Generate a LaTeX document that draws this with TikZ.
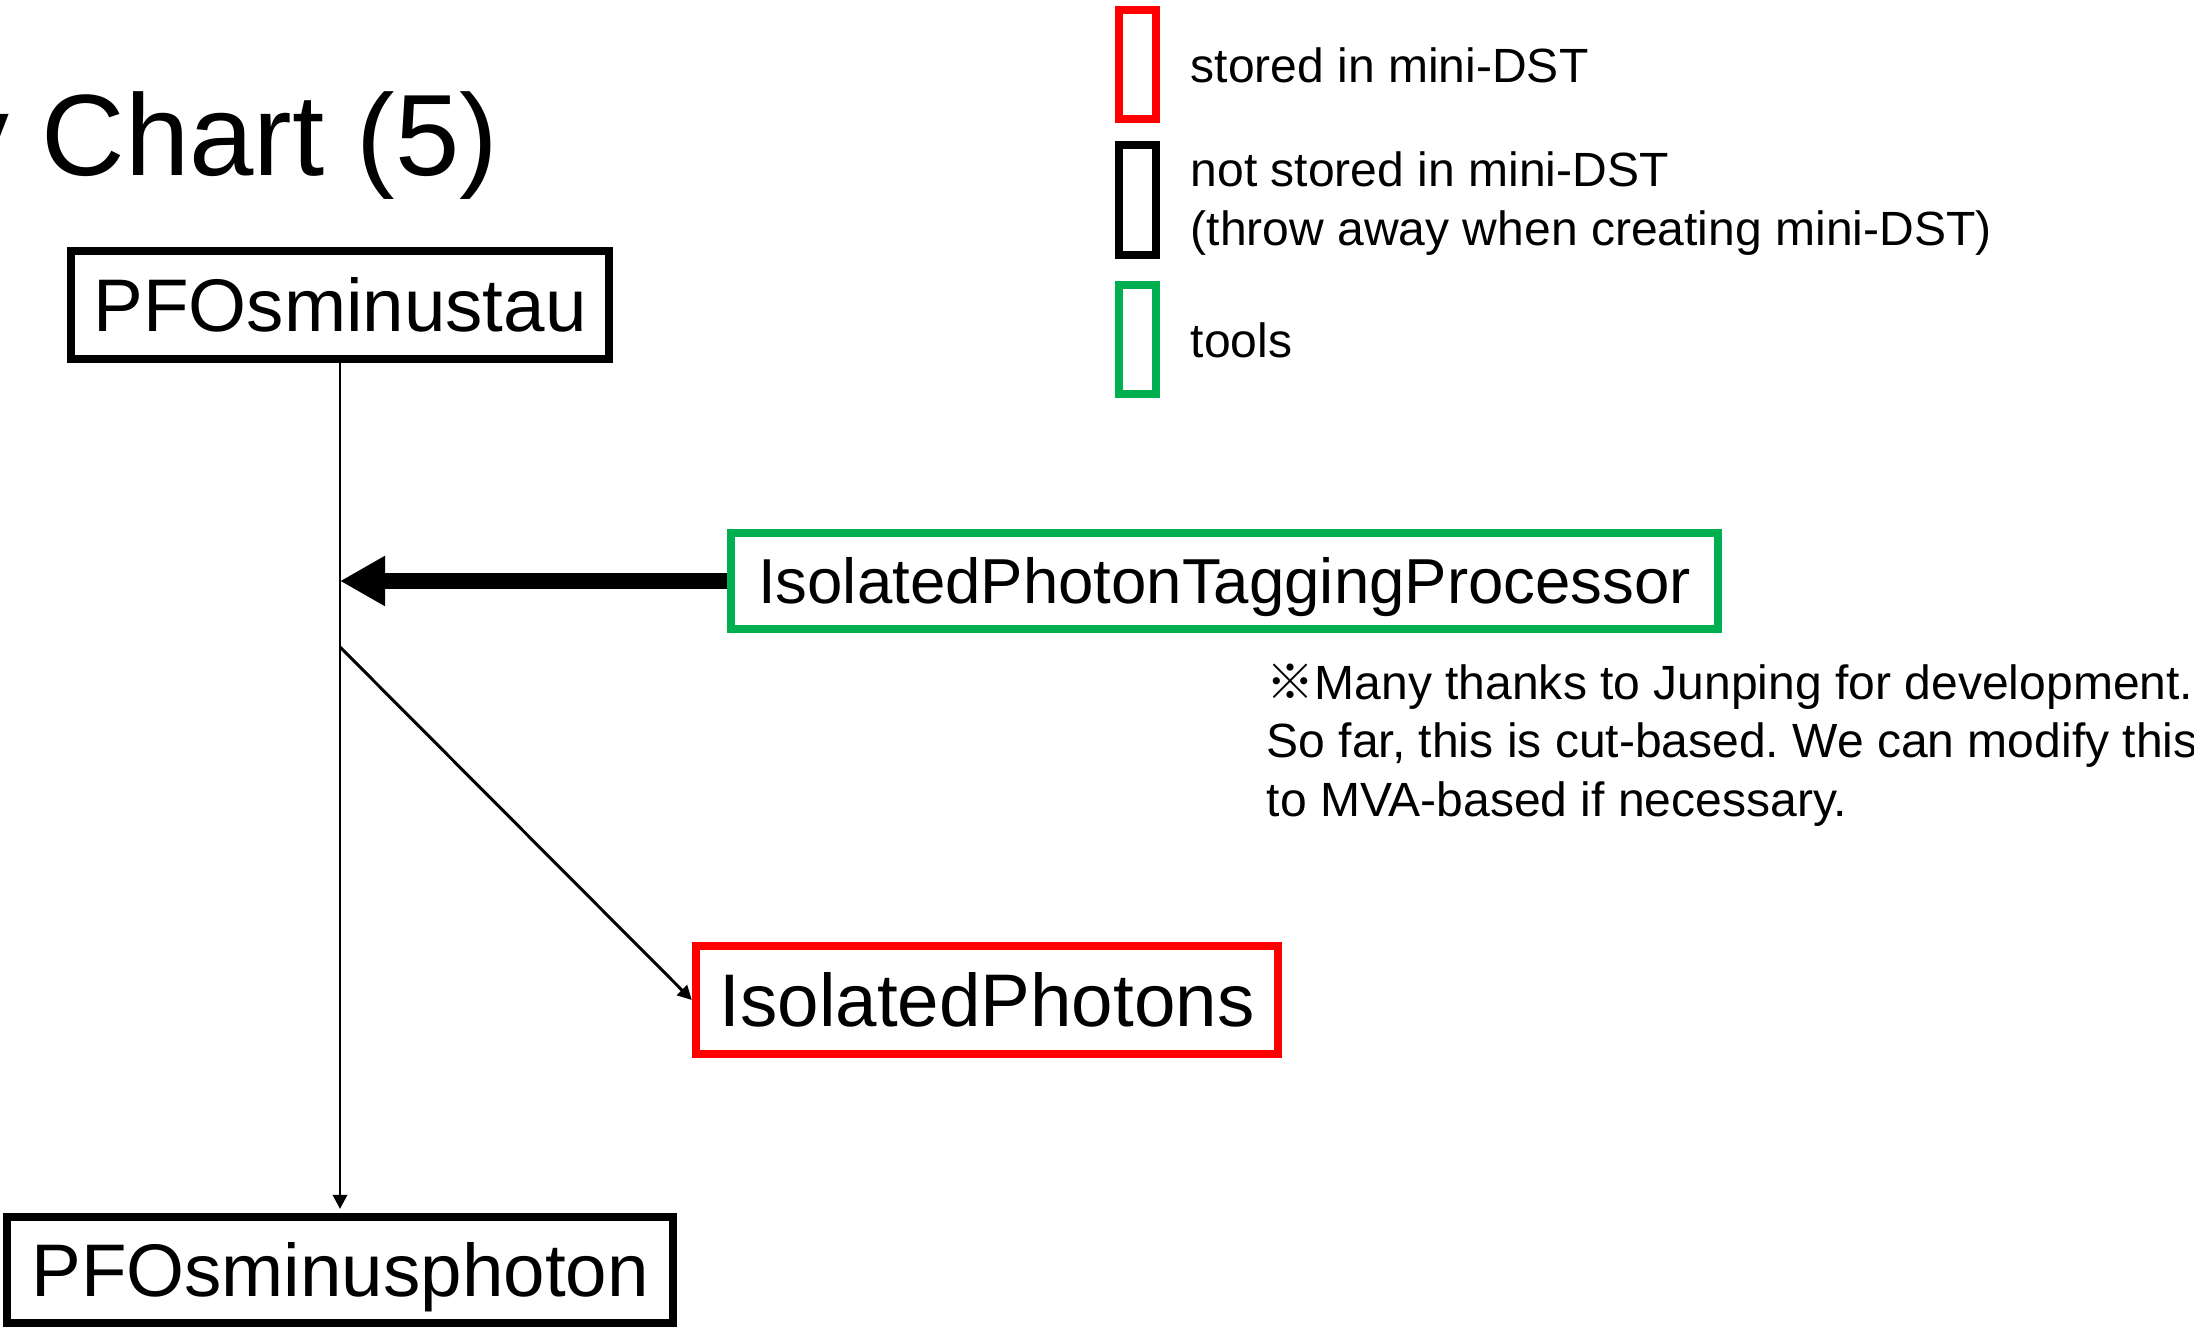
\documentclass[tikz,border=0pt]{standalone}
\usepackage{fontspec}
\setmainfont{Liberation Sans}
\newfontfamily\cjkfont{Noto Sans CJK JP}
\usetikzlibrary{arrows.meta}
\definecolor{toolgreen}{RGB}{0,176,80}
\frenchspacing
\begin{document}
\begin{tikzpicture}[x=0.01cm,y=-0.01cm,>={Triangle[length=4pt,width=4pt]},
 box/.style={draw,line width=2.28pt,inner sep=0pt,text depth=0pt},
 bigname/.style={font=\fontsize{21.2pt}{25pt}\selectfont,text height=15.2pt},
 keybox/.style={box,minimum width=0.37cm,minimum height=1.09cm},
 legend/.style={anchor=base west,inner sep=0pt,align=left,
  font=\fontsize{13.66pt}{16.5pt}\selectfont},
 flow/.style={->,line width=0.85pt}]
 \useasboundingbox (0,0) rectangle (2194,1327);
 % title
 \node[anchor=base east,inner sep=0pt,font=\fontsize{32.9pt}{38pt}\selectfont]
  (title) at (499,175) {y Chart (5)};
 % legend
 \node[keybox,draw=red] (kstored) at (1137.5,64.5) {};
 \node[keybox] (knot) at (1137.5,200) {};
 \node[keybox,draw=toolgreen] (ktool) at (1137.5,339.5) {};
 \node[legend] (tstored) at (1190,82) {stored in mini-DST};
 \node[legend] (tnot) at (1190,245) {not stored in mini-DST\\(throw away when creating mini-DST)};
 \node[legend] (ttool) at (1190,357) {tools};
 % collections and processor
 \node[box,bigname,minimum width=5.37cm,minimum height=1.08cm] (tau) at (340,305) {PFOsminustau};
 \node[box,bigname,minimum width=6.65cm,minimum height=1.06cm] (photon) at (340,1270) {PFOsminusphoton};
 \node[box,draw=toolgreen,font=\fontsize{18.07pt}{22pt}\selectfont,text height=12.94pt,
  minimum width=9.87cm,minimum height=0.96cm] (tagger) at (1224.5,581) {IsolatedPhotonTaggingProcessor};
 \node[box,draw=red,bigname,minimum width=5.82cm,minimum height=1.08cm] (isophot) at (987,1000) {IsolatedPhotons};
 \node[legend] (note) at (1266,816) {{\cjkfont ※}Many thanks to Junping for development.\\
  So far, this is cut-based. We can modify this\\to MVA-based if necessary.};
 % connectors
 \coordinate (merge) at (340,581);
 \coordinate (split) at (340,647);
 \draw[flow,shorten >=0.4mm] (tau) -- (photon);
 \draw[line width=4.55pt,-{Triangle[length=12.8pt,width=13.4pt]}] (tagger.west) -- (merge);
 \draw[flow] (split) -- (isophot.west);
\end{tikzpicture}
\end{document}
